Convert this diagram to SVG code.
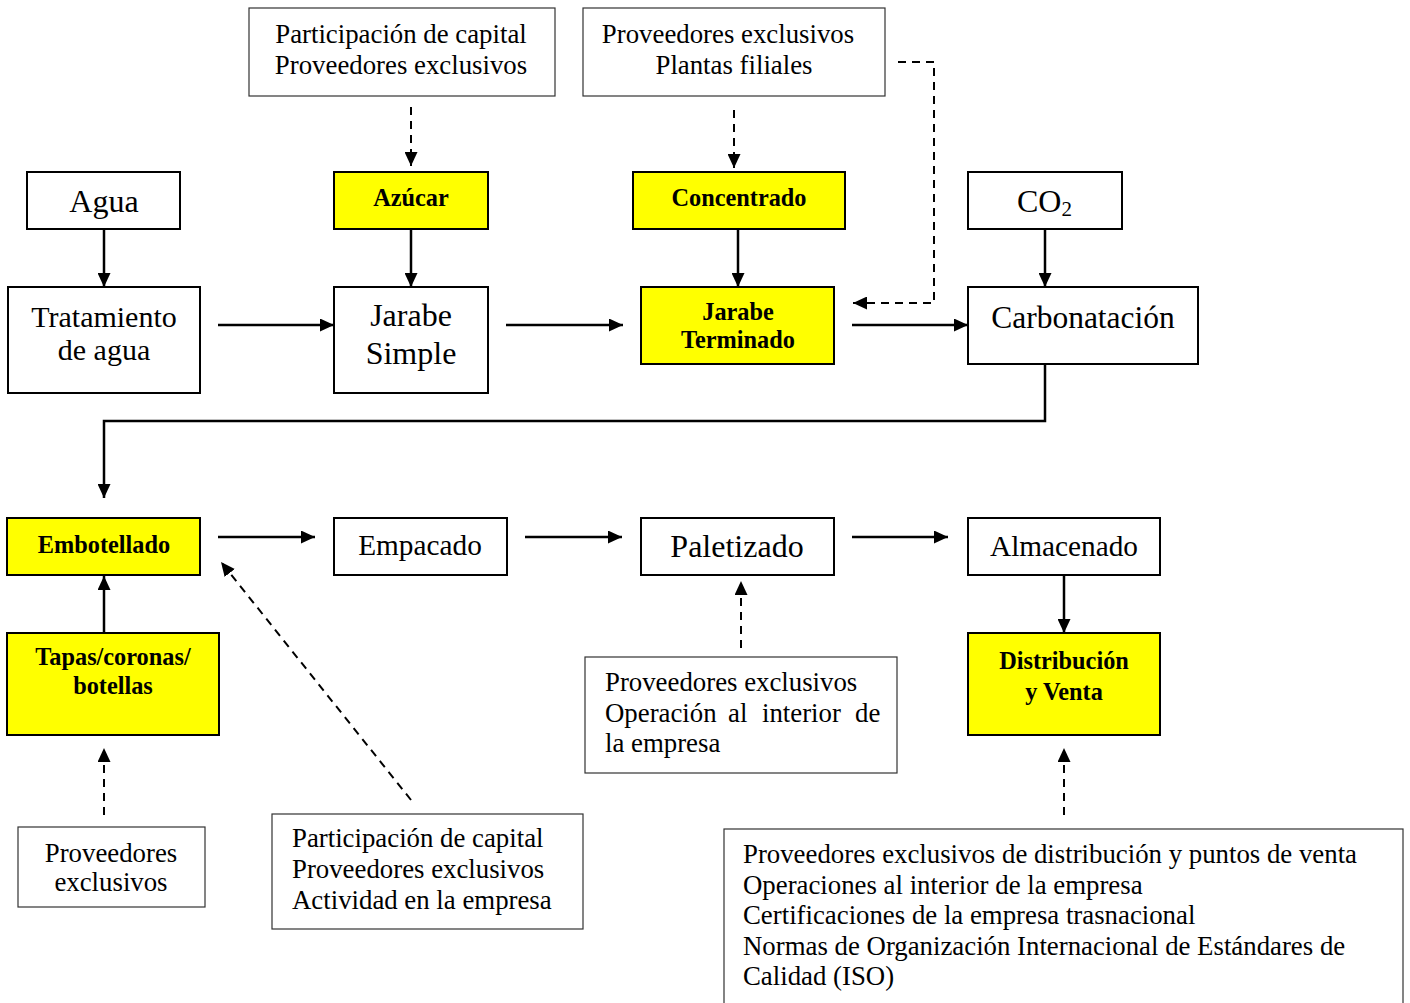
<svg xmlns="http://www.w3.org/2000/svg" width="1410" height="1003" viewBox="0 0 1410 1003">
<style>
  text { font-family: "Liberation Serif", "Times New Roman", serif; fill: #000; }
  .info rect { fill: #fff; stroke: #333; stroke-width: 1.2; }
  .info text { font-size: 26.8px; }
  .step rect { fill: #fff; stroke: #000; stroke-width: 2; }
  .hl rect { fill: #ffff00; stroke: #000; stroke-width: 2; }
  .hl text { font-size: 24.3px; font-weight: bold; }
  .c { text-anchor: middle; }
  .solid { stroke: #000; stroke-width: 2.5; fill: none; marker-end: url(#ah); }
  .dash { stroke: #000; stroke-width: 2; fill: none; stroke-dasharray: 8 6; marker-end: url(#ah); }
</style>
<defs>
  <marker id="ah" markerUnits="userSpaceOnUse" markerWidth="15" markerHeight="13" refX="14" refY="6.5" orient="auto">
    <path d="M0,0 L14,6.5 L0,13 z" fill="#000"/>
  </marker>
</defs>
<rect width="1410" height="1003" fill="#fff"/>

<g id="connectors">
  <line class="solid" x1="104" y1="229" x2="104" y2="287"/>
  <line class="solid" x1="411" y1="229" x2="411" y2="287"/>
  <line class="solid" x1="738" y1="229" x2="738" y2="287"/>
  <line class="solid" x1="1045" y1="229" x2="1045" y2="287"/>
  <line class="solid" x1="218" y1="325" x2="334" y2="325"/>
  <line class="solid" x1="506" y1="325" x2="623" y2="325"/>
  <line class="solid" x1="852" y1="325" x2="968" y2="325"/>
  <polyline class="solid" points="1045,364 1045,421 104,421 104,498"/>
  <line class="solid" x1="218" y1="537" x2="315" y2="537"/>
  <line class="solid" x1="525" y1="537" x2="622" y2="537"/>
  <line class="solid" x1="852" y1="537" x2="948" y2="537"/>
  <line class="solid" x1="1064" y1="575" x2="1064" y2="633"/>
  <line class="solid" x1="104" y1="633" x2="104" y2="576"/>
  <line class="dash" x1="411" y1="107" x2="411" y2="166"/>
  <line class="dash" x1="734" y1="110" x2="734" y2="168"/>
  <polyline class="dash" points="898,62 934,62 934,303 853,303"/>
  <line class="dash" x1="104" y1="815" x2="104" y2="748"/>
  <line class="dash" x1="411" y1="800" x2="221" y2="562"/>
  <line class="dash" x1="741" y1="648" x2="741" y2="581"/>
  <line class="dash" x1="1064" y1="815" x2="1064" y2="748"/>
</g>

<g id="info-azucar" class="info">
  <rect x="249" y="8" width="306" height="88"/>
  <text class="c" x="401" y="43">Participación de capital</text>
  <text class="c" x="401" y="74">Proveedores exclusivos</text>
</g>
<g id="info-concentrado" class="info">
  <rect x="583" y="8" width="302" height="88"/>
  <text class="c" x="728" y="43">Proveedores exclusivos</text>
  <text class="c" x="734" y="74">Plantas filiales</text>
</g>

<g id="agua" class="step">
  <rect x="27" y="172" width="153" height="57"/>
  <text class="c" x="104" y="212" font-size="32">Agua</text>
</g>
<g id="azucar" class="hl">
  <rect x="334" y="172" width="154" height="57"/>
  <text class="c" x="411" y="206">Azúcar</text>
</g>
<g id="concentrado" class="hl">
  <rect x="633" y="172" width="212" height="57"/>
  <text class="c" x="739" y="206">Concentrado</text>
</g>
<g id="co2" class="step">
  <rect x="968" y="172" width="154" height="57"/>
  <text x="1017" y="212" font-size="32">CO<tspan font-size="21" dy="4">2</tspan></text>
</g>

<g id="tratamiento" class="step">
  <rect x="8" y="287" width="192" height="106"/>
  <text class="c" x="104" y="327" font-size="30">Tratamiento</text>
  <text class="c" x="104" y="360" font-size="30">de agua</text>
</g>
<g id="jarabe-simple" class="step">
  <rect x="334" y="287" width="154" height="106"/>
  <text class="c" x="411" y="326" font-size="32">Jarabe</text>
  <text class="c" x="411" y="364" font-size="32">Simple</text>
</g>
<g id="jarabe-terminado" class="hl">
  <rect x="641" y="287" width="193" height="77"/>
  <text class="c" x="738" y="320">Jarabe</text>
  <text class="c" x="738" y="348">Terminado</text>
</g>
<g id="carbonatacion" class="step">
  <rect x="968" y="287" width="230" height="77"/>
  <text class="c" x="1083" y="328" font-size="31.5">Carbonatación</text>
</g>

<g id="embotellado" class="hl">
  <rect x="7" y="518" width="193" height="57"/>
  <text class="c" x="104" y="553">Embotellado</text>
</g>
<g id="empacado" class="step">
  <rect x="334" y="518" width="173" height="57"/>
  <text class="c" x="420" y="555" font-size="29.3">Empacado</text>
</g>
<g id="paletizado" class="step">
  <rect x="641" y="518" width="193" height="57"/>
  <text class="c" x="737" y="557" font-size="32">Paletizado</text>
</g>
<g id="almacenado" class="step">
  <rect x="968" y="518" width="192" height="57"/>
  <text class="c" x="1064" y="556" font-size="29.3">Almacenado</text>
</g>

<g id="tapas" class="hl">
  <rect x="7" y="633" width="212" height="102"/>
  <text class="c" x="113" y="665">Tapas/coronas/</text>
  <text class="c" x="113" y="694">botellas</text>
</g>
<g id="distribucion" class="hl">
  <rect x="968" y="633" width="192" height="102"/>
  <text class="c" x="1064" y="669" font-size="29.5">Distribución</text>
  <text class="c" x="1064" y="700" font-size="29.5">y Venta</text>
</g>

<g id="info-paletizado" class="info">
  <rect x="585" y="657" width="312" height="116"/>
  <text x="605" y="691">Proveedores exclusivos</text>
  <text y="722"><tspan x="605">Operación</tspan><tspan x="728">al</tspan><tspan x="762">interior</tspan><tspan x="855">de</tspan></text>
  <text x="605" y="752">la empresa</text>
</g>

<g id="info-tapas" class="info">
  <rect x="18" y="827" width="187" height="80"/>
  <text class="c" x="111" y="862">Proveedores</text>
  <text class="c" x="111" y="891">exclusivos</text>
</g>
<g id="info-embotellado" class="info">
  <rect x="272" y="814" width="311" height="115"/>
  <text x="292" y="847">Participación de capital</text>
  <text x="292" y="878">Proveedores exclusivos</text>
  <text x="292" y="909">Actividad en la empresa</text>
</g>
<g id="info-distribucion" class="info">
  <rect x="724" y="829" width="679" height="190"/>
  <text x="743" y="863">Proveedores exclusivos de distribución y puntos de venta</text>
  <text x="743" y="894">Operaciones al interior de la empresa</text>
  <text x="743" y="924">Certificaciones de la empresa trasnacional</text>
  <text x="743" y="955">Normas de Organización Internacional de Estándares de</text>
  <text x="743" y="985">Calidad (ISO)</text>
</g>
</svg>
